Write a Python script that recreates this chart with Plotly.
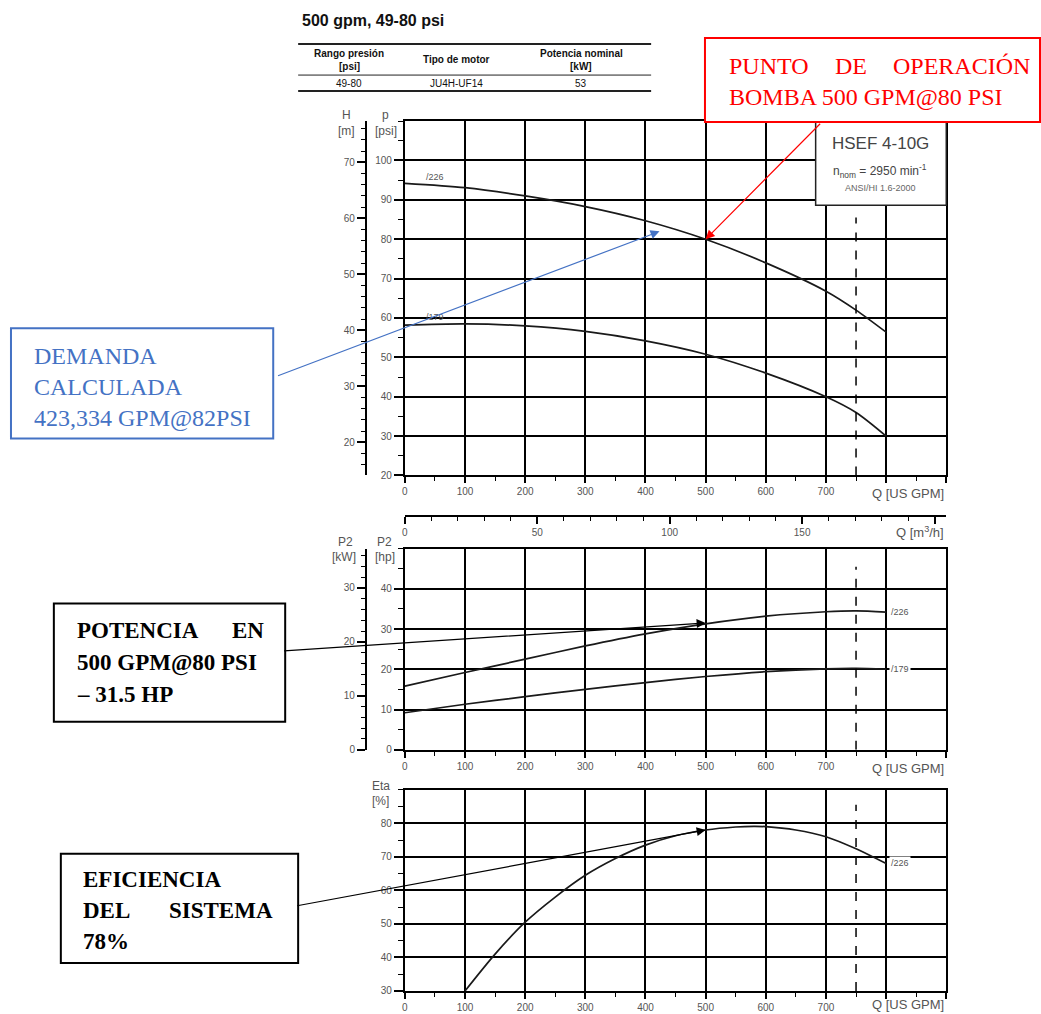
import plotly.graph_objects as go

# ---------------- data ----------------
Q = [0, 100, 200, 300, 400, 500, 600, 700, 750, 800]            # US GPM
p_226 = [94.2, 93.1, 91.0, 88.3, 84.7, 80.0, 74.0, 66.8, 62.0, 56.4]   # psi
p_179 = [58.2, 58.5, 58.0, 56.6, 54.2, 50.8, 46.0, 40.0, 36.0, 30.0]   # psi
P2_226 = [15.8, 19.2, 22.5, 25.8, 28.8, 31.3, 33.2, 34.3, 34.5, 34.2]  # hp
P2_179 = [9.2, 11.3, 13.2, 15.0, 16.7, 18.2, 19.4, 20.1, 20.2, 20.0]   # hp
Q_eta = [100, 150, 200, 250, 300, 350, 400, 450, 500, 550, 580, 600, 650, 700, 750, 800]
eta_226 = [30.0, 41.0, 50.5, 58.0, 64.5, 69.5, 73.5, 76.3, 78.0, 78.9, 79.1, 79.0, 78.0, 76.0, 72.4, 68.0]

Q_TICKS = [0, 100, 200, 300, 400, 500, 600, 700, 800, 900]
Q_TICK_TEXT = ["0", "100", "200", "300", "400", "500", "600", "700", "", ""]
M3H_TICKS = [0, 50, 100, 150, 200]
M3H_TICK_TEXT = ["0", "50", "100", "150", ""]
PSI_TICKS = [20, 30, 40, 50, 60, 70, 80, 90, 100]
M_TICKS = [20, 30, 40, 50, 60, 70]
HP_TICKS = [0, 10, 20, 30, 40]
KW_TICKS = [0, 10, 20, 30]
ETA_TICKS = [30, 40, 50, 60, 70, 80]

Q_LIMIT = 750            # dashed limit line
OP_Q, OP_P = 500, 80     # operating point
DEM_Q, DEM_P = 423.334, 82
POW_HP = 31.5
EFF = 78

PSI_PER_M = 1.422
GPM_PER_M3H = 4.4029
HP_PER_KW = 1.341

# ---------------- layout helpers ----------------
W, H = 1041, 1014
H_EFF = 1007   # effective vertical scale of the captured page
def px(x): return x / W
def py(y): return 1 - y / H_EFF

SANS = "Liberation Sans, Arial, sans-serif"
SERIF = "Liberation Serif, Times New Roman, serif"
GRAY = "#555555"
BLUE = "#4472C4"

XDOM = [px(403), px(946)]
Y_TOP = [py(475), py(121)]
Y_MID = [py(749), py(548)]
Y_BOT = [py(990), py(789)]
AUX_POS = px(364)

line_style = dict(color="#1a1a1a", width=1.7, shape="spline", smoothing=0.8)

fig = go.Figure()
fig.add_trace(go.Scatter(x=Q, y=p_226, mode="lines", line=line_style, xaxis="x", yaxis="y", hoverinfo="skip"))
fig.add_trace(go.Scatter(x=Q, y=p_179, mode="lines", line=line_style, xaxis="x", yaxis="y", hoverinfo="skip"))
# invisible helpers so that the secondary axes are drawn
fig.add_trace(go.Scatter(x=[Q[0]], y=[p_226[0] / PSI_PER_M], mode="markers", marker=dict(opacity=0),
                         xaxis="x", yaxis="y2", hoverinfo="skip"))
fig.add_trace(go.Scatter(x=[Q[0] / GPM_PER_M3H], y=[p_226[0]], mode="markers", marker=dict(opacity=0),
                         xaxis="x2", yaxis="y", hoverinfo="skip"))
fig.add_trace(go.Scatter(x=Q, y=P2_226, mode="lines", line=line_style, xaxis="x3", yaxis="y3", hoverinfo="skip"))
fig.add_trace(go.Scatter(x=Q, y=P2_179, mode="lines", line=line_style, xaxis="x3", yaxis="y3", hoverinfo="skip"))
fig.add_trace(go.Scatter(x=[Q[0]], y=[P2_226[0] / HP_PER_KW], mode="markers", marker=dict(opacity=0),
                         xaxis="x3", yaxis="y4", hoverinfo="skip"))
fig.add_trace(go.Scatter(x=Q_eta, y=eta_226, mode="lines", line=line_style, xaxis="x4", yaxis="y5", hoverinfo="skip"))

tickfont = dict(family=SANS, size=10, color=GRAY)

def qaxis(anchor):
    return dict(domain=XDOM, anchor=anchor, range=[0, 900], tickmode="array",
                tickvals=Q_TICKS, ticktext=Q_TICK_TEXT, ticks="outside", ticklen=6,
                tickwidth=1.5, tickcolor="black", tickfont=tickfont,
                minor=dict(tickmode="linear", tick0=0, dtick=50, ticks="outside", ticklen=4,
                           tickwidth=1.2, tickcolor="black", showgrid=False),
                showgrid=True, gridcolor="black", gridwidth=1.5, showline=True,
                linecolor="black", linewidth=2, mirror=True, zeroline=False, fixedrange=True)

def yaxis_main(domain, anchor, rng, tickvals, minor):
    return dict(domain=domain, anchor=anchor, range=rng, tickmode="array", tickvals=tickvals,
                ticks="outside", ticklen=9, tickwidth=1.5, tickcolor="black", tickfont=tickfont,
                minor=dict(tickmode="linear", tick0=0, dtick=minor, ticks="outside", ticklen=5,
                           tickwidth=1.2, tickcolor="black", showgrid=False),
                showgrid=True, gridcolor="black", gridwidth=1.5, showline=True,
                linecolor="black", linewidth=2, mirror=True, zeroline=False, fixedrange=True)

def yaxis_aux(over, rng, tickvals, minor):
    return dict(overlaying=over, anchor="free", position=AUX_POS, side="left", range=rng,
                tickmode="array", tickvals=tickvals, ticks="outside", ticklen=8, tickwidth=1.5,
                tickcolor="black", tickfont=tickfont,
                minor=dict(tickmode="linear", tick0=0, dtick=minor, ticks="outside", ticklen=4,
                           tickwidth=1.2, tickcolor="black", showgrid=False),
                showgrid=False, showline=True, linecolor="black", linewidth=2, zeroline=False,
                fixedrange=True)

layout = dict(
    width=W, height=H, margin=dict(l=0, r=0, t=0, b=0),
    paper_bgcolor="white", plot_bgcolor="white", showlegend=False, hovermode=False,
    xaxis=qaxis("y"),
    yaxis=yaxis_main(Y_TOP, "x", [20, 110], PSI_TICKS, 5),
    yaxis2=yaxis_aux("y", [20 / PSI_PER_M, 110 / PSI_PER_M], M_TICKS, 2),
    xaxis2=dict(overlaying="x", anchor="free", position=py(515), side="bottom",
                range=[0, 900 / GPM_PER_M3H], tickmode="array", tickvals=M3H_TICKS,
                ticktext=M3H_TICK_TEXT, ticks="outside", ticklen=7, tickwidth=1.5,
                tickcolor="black", tickfont=tickfont,
                minor=dict(tickmode="linear", tick0=0, dtick=10, ticks="outside", ticklen=4,
                           tickwidth=1.2, tickcolor="black", showgrid=False),
                showgrid=False, showline=True, linecolor="black", linewidth=2, zeroline=False,
                fixedrange=True),
    xaxis3=qaxis("y3"),
    yaxis3=yaxis_main(Y_MID, "x3", [0, 50], HP_TICKS, 5),
    yaxis4=yaxis_aux("y3", [0, 50 / HP_PER_KW], KW_TICKS, 2),
    xaxis4=qaxis("y5"),
    yaxis5=yaxis_main(Y_BOT, "x4", [30, 90], ETA_TICKS, 5),
)
fig.update_layout(**layout)

shapes = []
# dashed limit lines
for xr, yr, y0, y1 in [("x", "y", 20, 85.5), ("x3", "y3", 0, 45.5), ("x4", "y5", 30, 85.5)]:
    shapes.append(dict(type="line", xref=xr, yref=yr, x0=Q_LIMIT, x1=Q_LIMIT, y0=y0, y1=y1,
                       line=dict(color="black", width=1.5, dash="dash")))

def prect(x0, y0, x1, y1, color, width=2, fill="rgba(0,0,0,0)"):
    return dict(type="rect", xref="paper", yref="paper", x0=px(x0), x1=px(x1), y0=py(y1), y1=py(y0),
                line=dict(color=color, width=width), fillcolor=fill, layer="above")

def pline(x0, y0, x1, y1, width=1.5, color="#222"):
    return dict(type="line", xref="paper", yref="paper", x0=px(x0), x1=px(x1), y0=py(y0), y1=py(y1),
                line=dict(color=color, width=width))

shapes.append(prect(815, 121, 946, 205, "#222", 1.5, "white"))       # HSEF box
shapes.append(prect(704, 38, 1040, 122, "#FF0000", 2, "white"))      # red box
shapes.append(prect(8, 328, 271, 438, BLUE, 2))                      # blue box
shapes.append(prect(51, 603, 283, 721, "black", 2))                  # black box 1
shapes.append(prect(58, 853, 296, 962, "black", 2))                  # black box 2
# header table lines
shapes.append(pline(296, 44, 650, 44, 2))
shapes.append(pline(296, 75, 650, 75, 1))
shapes.append(pline(296, 91, 650, 91, 2))
fig.update_layout(shapes=shapes)

ann = []
def ptext(x, y, text, size=10, color=GRAY, family=SANS, xanchor="center", bold=False, bg=None):
    t = f"<b>{text}</b>" if bold else text
    d = dict(xref="paper", yref="paper", x=px(x), y=py(y), text=t, showarrow=False,
             xanchor=xanchor, yanchor="middle", font=dict(family=family, size=size, color=color))
    if bg:
        d["bgcolor"] = bg
    ann.append(d)

# header
ptext(298, 20, "500 gpm, 49-80 psi", 16, "#111", xanchor="left", bold=True)
ptext(347, 53, "Rango presión", 10, "#111", bold=True)
ptext(347, 66, "[psi]", 10, "#111", bold=True)
ptext(455, 59, "Tipo de motor", 10, "#111", bold=True)
ptext(580, 53, "Potencia nominal", 10, "#111", bold=True)
ptext(580, 66, "[kW]", 10, "#111", bold=True)
ptext(347, 83, "49-80", 10, "#111")
ptext(455, 83, "JU4H-UF14", 10, "#111")
ptext(580, 83, "53", 10, "#111")

# axis titles
ptext(344, 115, "H", 12, GRAY)
ptext(344, 131, "[m]", 12, GRAY)
ptext(384, 115, "p", 12, GRAY)
ptext(384, 131, "[psi]", 12, GRAY)
ptext(343, 541, "P2", 12, GRAY)
ptext(342, 556, "[kW]", 12, GRAY)
ptext(383, 541, "P2", 12, GRAY)
ptext(383, 556, "[hp]", 12, GRAY)
ptext(379, 785, "Eta", 12, GRAY)
ptext(379, 800, "[%]", 12, GRAY)

# Q titles
ptext(946, 493, "Q [US GPM]", 13, GRAY, xanchor="right")
ptext(946, 531, "Q [m<sup>3</sup>/h]", 13, GRAY, xanchor="right")
ptext(946, 768, "Q [US GPM]", 13, GRAY, xanchor="right")
ptext(946, 1004, "Q [US GPM]", 13, GRAY, xanchor="right")

# HSEF box text
ptext(880, 143, "HSEF 4-10G", 17, "#444")
ptext(880, 171, "n<sub>nom</sub> = 2950 min<sup>-1</sup>", 12, "#444")
ptext(880, 188, "ANSI/HI 1.6-2000", 9, "#666")

# curve labels (data coordinates)
def dtext(xr, yr, x, y, text, xanchor="center", bg=None):
    d = dict(xref=xr, yref=yr, x=x, y=y, text=text, showarrow=False, xanchor=xanchor,
             yanchor="middle", font=dict(family=SANS, size=9, color=GRAY))
    if bg:
        d["bgcolor"] = bg
    ann.append(d)

dtext("x", "y", 50, 95.8, "/226")
dtext("x", "y", 50, 60.2, "/179")
dtext("x3", "y3", 805, 34.3, "/226", xanchor="left")
dtext("x3", "y3", 805, 20.0, "/179", xanchor="left", bg="white")
dtext("x4", "y5", 805, 68.2, "/226", xanchor="left", bg="white")

# red box text
RED = "#FF0000"
ptext(726, 66, "PUNTO", 24, RED, SERIF, xanchor="left")
ptext(850, 66, "DE", 24, RED, SERIF)
ptext(1032, 66, "OPERACIÓN", 24, RED, SERIF, xanchor="right")
ptext(726, 97, "BOMBA 500 GPM@80 PSI", 24, RED, SERIF, xanchor="left")

# blue box text
ptext(29, 356, "DEMANDA", 24, BLUE, SERIF, xanchor="left")
ptext(29, 387, "CALCULADA", 24, BLUE, SERIF, xanchor="left")
ptext(29, 418, "423,334 GPM@82PSI", 24, BLUE, SERIF, xanchor="left")

# black box 1
ptext(72, 630, "POTENCIA", 23, "black", SERIF, xanchor="left", bold=True)
ptext(264, 630, "EN", 23, "black", SERIF, xanchor="right", bold=True)
ptext(72, 662, "500 GPM@80 PSI", 23, "black", SERIF, xanchor="left", bold=True)
ptext(72, 694, "– 31.5 HP", 23, "black", SERIF, xanchor="left", bold=True)

# black box 2
ptext(78, 879, "EFICIENCIA", 23, "black", SERIF, xanchor="left", bold=True)
ptext(78, 910, "DEL", 23, "black", SERIF, xanchor="left", bold=True)
ptext(273, 910, "SISTEMA", 23, "black", SERIF, xanchor="right", bold=True)
ptext(78, 941, "78%", 23, "black", SERIF, xanchor="left", bold=True)

# arrows (heads at data points, tails at box edges in pixel offsets)
def arrow(xr, yr, x, y, ax, ay, color):
    ann.append(dict(xref=xr, yref=yr, x=x, y=y, ax=ax, ay=ay, text="", showarrow=True,
                    arrowhead=2, arrowsize=1.5, arrowwidth=1.2, arrowcolor=color, standoff=0))

arrow("x", "y", OP_Q, OP_P, 116, -117, RED)
arrow("x", "y", DEM_Q, DEM_P, -383, 145, BLUE)
arrow("x3", "y3", OP_Q, POW_HP, -423, 28, "black")
arrow("x4", "y5", OP_Q, EFF, -410, 76, "black")

fig.update_layout(annotations=ann)

fig.write_html(
    "out.html",
    config={"displayModeBar": False},
    post_script=(
        "document.body.style.margin='0';"
        "var d=document.getElementById('{plot_id}');"
        "d.style.position='fixed';d.style.top='0';d.style.left='0';"
    ),
)
